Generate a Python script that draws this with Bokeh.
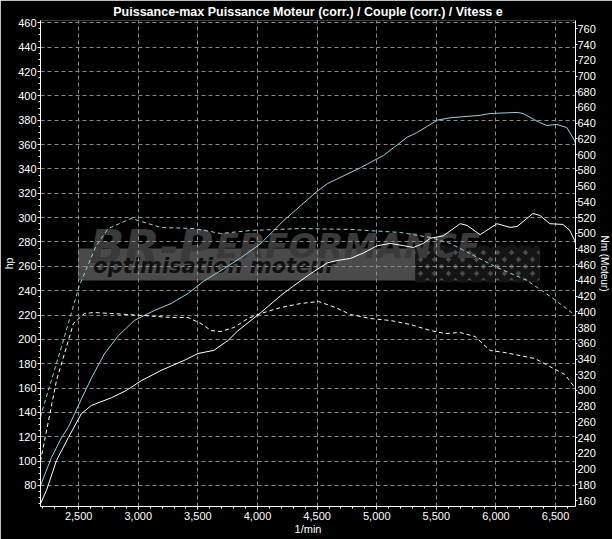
from bokeh.plotting import figure
from bokeh.models import (Range1d, LinearAxis, SingleIntervalTicker,
                          NumeralTickFormatter, Label, BoxAnnotation)
from bokeh.embed import file_html
from bokeh.resources import INLINE

# ---- data ----
title_text = "Puissance-max Puissance Moteur (corr.) / Couple (corr.) / Vitess e"
x_title = "1/min"
y_title_left = "hp"
y_title_right = "Nm (Moteur)"

# tuned power (hp), cyan solid
rpm_power_tuned = [2180, 2272, 2355, 2414, 2523, 2606, 2715, 2833, 2967, 3134, 3276,
                   3418, 3551, 3694, 3860, 4028, 4220, 4504, 4588, 4864, 5056, 5255,
                   5340, 5507, 5616, 5867, 5951, 6177, 6227, 6368, 6427, 6510, 6594,
                   6661, 6667]
hp_tuned = [80, 103, 119, 128, 151, 168, 188, 203, 215.5, 223.7, 229.5,
            237.7, 248, 256.6, 267, 278.8, 297.6, 322, 328, 341, 351, 366,
            370, 380, 382, 384, 385.5, 386.4, 385.5, 378, 375.7, 376.5, 374,
            363, 360]

# stock power (hp), white solid
rpm_power_stock = [2180, 2230, 2314, 2414, 2523, 2606, 2773, 2899, 3024, 3191, 3384,
                   3501, 3634, 3751, 3835, 4028, 4195, 4303, 4446, 4588, 4671, 4780,
                   4889, 5006, 5114, 5223, 5307, 5390, 5449, 5558, 5700, 5758, 5867,
                   6009, 6118, 6177, 6310, 6369, 6452, 6561, 6619, 6661, 6667]
hp_stock = [65, 76, 100.5, 119.4, 139, 145.7, 152, 158, 166, 174.5, 182.7,
            188.4, 191, 199, 207, 222, 236, 244, 254, 263, 264.8, 266.5,
            271, 277, 278.8, 277, 275.5, 278.8, 283, 285, 295, 293.6, 286,
            295, 292, 292.7, 303.4, 301.8, 295, 294.4, 289.5, 281, 279]

# tuned torque (Nm), cyan dashed
rpm_torque_tuned = [2180, 2188, 2355, 2506, 2648, 2748, 2941, 3191, 3467, 3693, 3944,
                    4362, 4780, 5198, 5449, 5616, 6009, 6260, 6452, 6644, 6669]
nm_tuned = [266, 271, 355, 433.5, 484.4, 506, 518.8, 507.3, 506, 499.7, 503.5,
            506, 504.8, 501, 494.6, 487, 456.4, 440, 420, 398, 394]

# stock torque (Nm), white dashed
rpm_torque_stock = [2180, 2314, 2456, 2548, 2631, 2773, 3049, 3275, 3417, 3526, 3610,
                    3693, 3802, 3919, 4028, 4195, 4362, 4513, 4655, 4780, 4947, 5115,
                    5282, 5449, 5574, 5700, 5825, 5951, 6076, 6201, 6327, 6452, 6578,
                    6667]
nm_stock = [210, 312.6, 385.1, 397.9, 399.1, 397.9, 395.3, 392.8, 392.8, 385.1, 376.3,
            375, 380.1, 391.5, 397.9, 405.5, 410.6, 413.1, 405.5, 396.6, 391.5, 389,
            383.9, 376.3, 372.4, 373.7, 368.6, 350.8, 348.2, 344.4, 340.6, 330.4, 320.3,
            302.5]

CYAN = "#96d2dc"
FONT = "Liberation Sans Narrow, Liberation Sans, sans-serif"

p = figure(width=612, height=539, output_backend="svg", toolbar_location=None,
           x_range=Range1d(2180, 6667), y_range=Range1d(62.75, 461.9),
           min_border_left=39, min_border_right=36, min_border_top=20,
           min_border_bottom=33,
           background_fill_color="black", border_fill_color="black",
           title=title_text)
p.outline_line_color = None
p.extra_y_ranges = {"nm": Range1d(152.4, 770.6)}

p.title.align = "center"
p.title.text_color = "white"
p.title.text_font = FONT
p.title.text_font_size = "12.5px"
p.title.text_font_style = "bold"
p.title.standoff = 4
p.title.offset = 0

# watermark (drawn beneath grid)
p.add_layout(BoxAnnotation(left=2495, right=6366, bottom=248.4, top=274.6,
                           fill_color="#4a4a4a", fill_alpha=1.0, line_color=None,
                           level="image"))
p.add_layout(BoxAnnotation(left=5322, right=6366, bottom=246.7, top=277.1,
                           fill_alpha=0, line_color=None,
                           hatch_pattern="diagonal_cross", hatch_color="#141414",
                           hatch_scale=14, hatch_weight=6, level="image"))
p.add_layout(Label(x=2589, y=275.5, text="BR-P", text_font="DejaVu Sans",
                   text_font_size="46px", text_font_style="bold italic",
                   text_color="#3a3a3a", text_baseline="alphabetic", level="image"))
p.add_layout(Label(x=3650, y=277, text="ERFORMANCE", text_font="DejaVu Sans",
                   text_font_size="34px", text_font_style="bold italic",
                   text_color="#3a3a3a", text_baseline="alphabetic", level="image"))
p.add_layout(Label(x=2623, y=259.9, text="optimisation moteur", text_font="DejaVu Sans",
                   text_font_size="21px", text_font_style="bold italic",
                   text_color="#111111", text_baseline="middle", level="image"))

# axes
for ax in [p.xaxis[0], p.yaxis[0]]:
    ax.axis_line_color = "white"
    ax.major_tick_line_color = "white"
    ax.minor_tick_line_color = "white"
    ax.major_label_text_color = "white"
    ax.major_label_text_font = FONT
    ax.major_label_text_font_size = "11px"
    ax.axis_label_text_color = "white"
    ax.axis_label_text_font = FONT
    ax.axis_label_text_font_size = "11px"
    ax.axis_label_text_font_style = "normal"
    ax.major_tick_in = 0
    ax.minor_tick_in = 0

p.xaxis.ticker = SingleIntervalTicker(interval=500, num_minor_ticks=5)
p.xaxis.formatter = NumeralTickFormatter(format="0,0")
p.xaxis.major_tick_out = 3
p.xaxis.minor_tick_out = 2
p.xaxis.major_label_standoff = 2
p.xaxis.axis_label = x_title
p.xaxis.axis_label_standoff = 0

p.yaxis.ticker = SingleIntervalTicker(interval=20, num_minor_ticks=4)
p.yaxis.major_tick_out = 3
p.yaxis.minor_tick_out = 2
p.yaxis.major_label_standoff = 1
p.yaxis.axis_label = y_title_left
p.yaxis.axis_label_standoff = 0
p.yaxis.axis_label_text_font_size = "10.5px"

rax = LinearAxis(y_range_name="nm", ticker=SingleIntervalTicker(interval=20, num_minor_ticks=0),
                 axis_label=y_title_right)
rax.axis_line_color = "white"
rax.major_tick_line_color = "white"
rax.major_label_text_color = "white"
rax.major_label_text_font = FONT
rax.major_label_text_font_size = "11px"
rax.axis_label_text_color = "white"
rax.axis_label_text_font = FONT
rax.axis_label_text_font_size = "10px"
rax.axis_label_text_font_style = "normal"
rax.axis_label_standoff = 0
rax.major_tick_in = 0
rax.major_tick_out = 2
rax.major_label_standoff = 0
p.add_layout(rax, "right")

# grid
p.xgrid.ticker = SingleIntervalTicker(interval=500)
p.ygrid.ticker = SingleIntervalTicker(interval=20)
for g in [p.xgrid[0], p.ygrid[0]]:
    g.grid_line_color = "#8a8a8a"
    g.grid_line_dash = "4 3"
    g.grid_line_width = 1

# curves
p.line(rpm_power_tuned, hp_tuned, line_color=CYAN, line_width=1)
p.line(rpm_power_stock, hp_stock, line_color="white", line_width=1)
p.line(rpm_torque_tuned, nm_tuned, line_color=CYAN, line_width=1,
       line_dash="4 3", y_range_name="nm")
p.line(rpm_torque_stock, nm_stock, line_color="white", line_width=1,
       line_dash="4 3", y_range_name="nm")

open("out.html", "w").write(file_html(p, INLINE))
